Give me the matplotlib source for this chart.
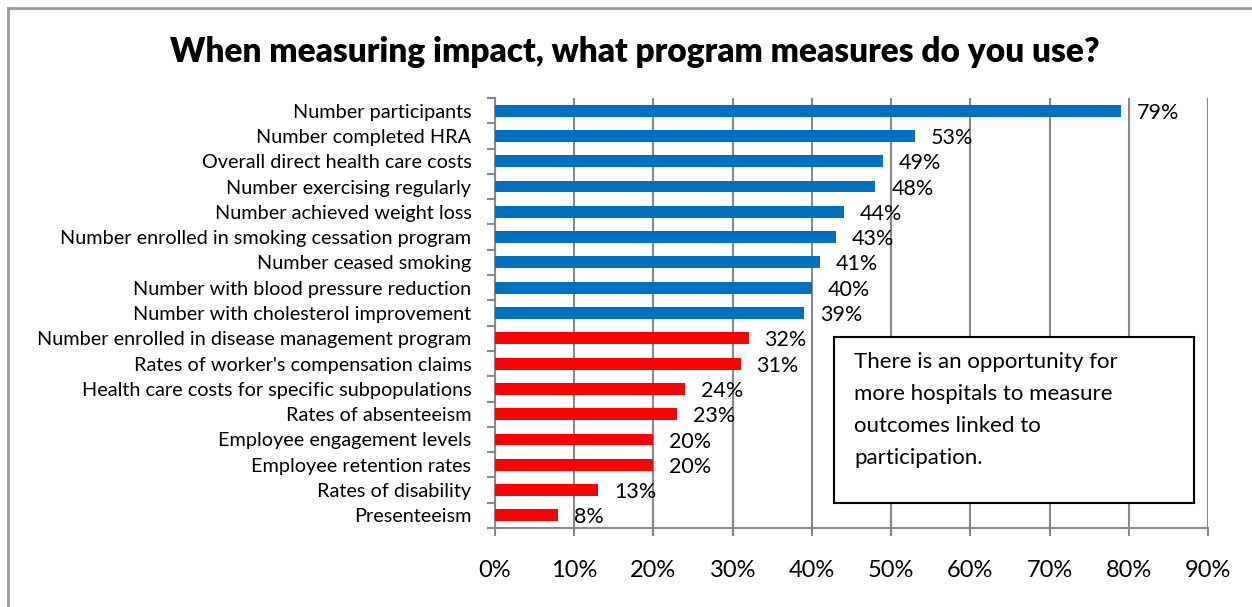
import matplotlib as m
m.use("Agg")
import matplotlib.pyplot as plt
from matplotlib.lines import Line2D
from matplotlib.patches import Rectangle
import numpy as np

plt.rcParams['font.family'] = ['Lato', 'DejaVu Sans']

# Survey answers, top to bottom
measures = [
  "Number participants",
  "Number completed HRA",
  "Overall direct health care costs",
  "Number exercising regularly",
  "Number achieved weight loss",
  "Number enrolled in smoking cessation program",
  "Number ceased smoking",
  "Number with blood pressure reduction",
  "Number with cholesterol improvement",
  "Number enrolled in disease management program",
  "Rates of worker's compensation claims",
  "Health care costs for specific subpopulations",
  "Rates of absenteeism",
  "Employee engagement levels",
  "Employee retention rates",
  "Rates of disability",
  "Presenteeism",
]
percents = [79, 53, 49, 48, 44, 43, 41, 40, 39, 32, 31, 24, 23, 20, 20, 13, 8]
# first 9 are participation measures (blue), rest are outcomes (red)
isParticipation = [True] * 9 + [False] * 8
xTicks = [0, 10, 20, 30, 40, 50, 60, 70, 80, 90]

title = "When measuring impact, what program measures do you use?"
note = "There is an opportunity for\nmore hospitals to measure\noutcomes linked to\nparticipation."

gray = "#888888"
fig = plt.figure(figsize=(12.52, 6.07), dpi=100)
ax = fig.add_axes([0.3954, 0.1301, 0.5695, 0.7085])

n = len(measures)
yPos = np.arange(n)
colors = ['#0070C0' if p else '#FF0000' for p in isParticipation]
ax.barh(yPos, percents, height=0.47, color=colors, zorder=3)

for y, v in zip(yPos, percents):
  ax.annotate("%d%%" % v, (v, y), xytext=(11.5, -1.5), textcoords='offset points',
              ha='left', va='center', fontsize=15.5, color='black', zorder=4)

ax.set_ylim(n - 0.5, -0.5)
ax.set_xlim(0, 90)
ax.set_yticks(yPos)
ax.set_yticklabels(measures, fontsize=14.3)
ax.set_yticks(np.arange(-0.5, n, 1), minor=True)
ax.tick_params(axis='y', which='major', length=0, pad=17)
ax.tick_params(axis='y', which='minor', length=6, width=1.5, color=gray, direction='out')
ax.set_xticks(xTicks)
ax.set_xticklabels(["%d%%" % t for t in xTicks], fontsize=17)
ax.tick_params(axis='x', length=6, width=1.5, color=gray, direction='out', pad=17)

ax.grid(axis='x', color=gray, linewidth=1.5, zorder=0)
for s in ['top', 'right']:
  ax.spines[s].set_visible(False)
for s in ['left', 'bottom']:
  ax.spines[s].set_color(gray)
  ax.spines[s].set_linewidth(1.5)

fig.text(0.507, 0.914, title, ha='center', va='center', fontsize=24, fontweight='heavy')

# note box
fig.add_artist(Rectangle((834 / 1252, 1 - 503 / 607), 360 / 1252, 166 / 607,
                         transform=fig.transFigure, facecolor='white',
                         edgecolor='black', linewidth=1.5, zorder=5))
fig.text(854 / 1252, 1 - 352 / 607, note, ha='left', va='top', fontsize=16,
         linespacing=1.75, zorder=6)

# outer frame (left and top edges only visible)
fig.add_artist(Line2D([8 / 1252, 8 / 1252], [0, 1 - 8 / 607], transform=fig.transFigure,
                      color='#999999', linewidth=2))
fig.add_artist(Line2D([8 / 1252, 1], [1 - 8 / 607, 1 - 8 / 607], transform=fig.transFigure,
                      color='#999999', linewidth=2))

plt.savefig("out.png", dpi=100)
